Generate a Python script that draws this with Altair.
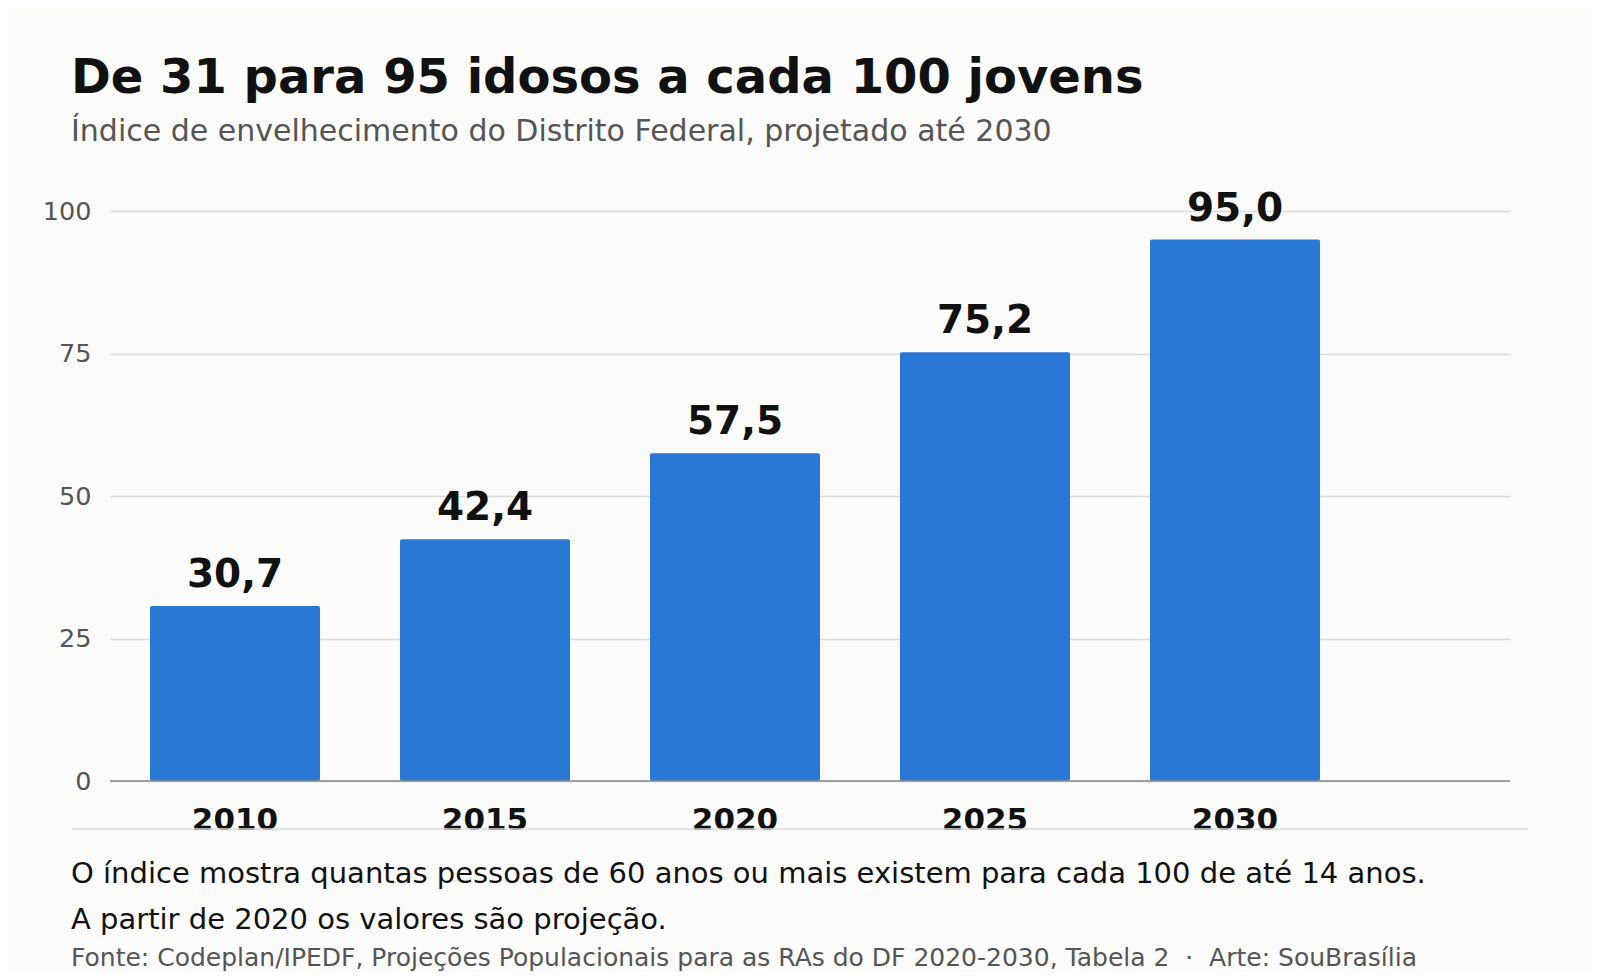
import altair as alt
import pandas as pd

years = [2010, 2015, 2020, 2025, 2030]
values = [30.7, 42.4, 57.5, 75.2, 95.0]

title_text = "De 31 para 95 idosos a cada 100 jovens"
subtitle_text = "Índice de envelhecimento do Distrito Federal, projetado até 2030"
note1 = "O índice mostra quantas pessoas de 60 anos ou mais existem para cada 100 de até 14 anos."
note2 = "A partir de 2020 os valores são projeção."
source = "Fonte: Codeplan/IPEDF, Projeções Populacionais para as RAs do DF 2020-2030, Tabela 2\u00a0\u00a0·\u00a0\u00a0Arte: SouBrasília"

df = pd.DataFrame({"year": years, "value": values})

FONT = "DejaVu Sans"
BLUE = "#2a78d6"
W, H = 1400, 570

xscale = alt.Scale(domain=[2007.5, 2035.5], nice=False, zero=False)
yscale = alt.Scale(domain=[0, 100], nice=False)

base = alt.Chart(df).transform_calculate(
    x0="datum.year - 1.7",
    x1="datum.year + 1.7",
    zero="0",
    label="replace(format(datum.value, '.1f'), '.', ',')",
    ylab="toString(datum.year)",
)

bars = base.mark_bar(color=BLUE, cornerRadius=2).encode(
    x=alt.X("x0:Q", scale=xscale, axis=None),
    x2="x1:Q",
    y=alt.Y(
        "value:Q",
        scale=yscale,
        axis=alt.Axis(
            values=[0, 25, 50, 75, 100],
            title=None,
            domain=False,
            ticks=False,
            grid=True,
            gridColor="#dcdcdc",
            gridWidth=1.5,
            labelFont=FONT,
            labelFontSize=25.5,
            labelColor="#555555",
            labelPadding=19,
            labelBaseline="middle",
        ),
    ),
    y2="zero:Q",
)

zero = alt.Chart(pd.DataFrame({"z": [0]})).mark_rule(color="#888888", strokeWidth=1.6).encode(
    y=alt.Y("z:Q", scale=yscale),
    x=alt.value(0),
    x2=alt.value(W),
)

labels = base.mark_text(
    font=FONT, fontSize=39, fontWeight="bold", color="#111111",
    baseline="alphabetic", dy=-19,
).encode(
    x=alt.X("year:Q", scale=xscale),
    y=alt.Y("value:Q", scale=yscale),
    text="label:N",
)

xlabels = base.mark_text(
    font=FONT, fontSize=31, fontWeight="bold", color="#111111",
    baseline="alphabetic",
).encode(
    x=alt.X("year:Q", scale=xscale),
    y=alt.value(619),
    text="ylab:N",
)

sep = alt.Chart(pd.DataFrame({"z": [0]})).mark_rule(color="#dddddd", strokeWidth=1.6).encode(
    x=alt.value(-38.5),
    x2=alt.value(1418.5),
    y=alt.value(618),
)


def txt(t, y, size, color, weight="normal"):
    return alt.Chart(pd.DataFrame({"t": [t]})).mark_text(
        font=FONT, fontSize=size, fontWeight=weight, color=color,
        align="left", baseline="alphabetic",
    ).encode(x=alt.value(-39), y=alt.value(y), text="t:N")


chart = alt.layer(
    bars,
    zero,
    labels,
    xlabels,
    sep,
    txt(title_text, -117.7, 48, "#111111", "bold"),
    txt(subtitle_text, -70.3, 30, "#555555"),
    txt(note1, 672.3, 29, "#111111"),
    txt(note2, 718.3, 29, "#111111"),
    txt(source, 755, 25, "#555555"),
).properties(
    width=W,
    height=H,
    background="#fbfbfa",
    padding={"left": 102, "top": 203, "right": 82, "bottom": 191},
    autosize=alt.AutoSizeParams(type="none"),
).configure_view(stroke=None)

chart.save("out.html", embed_options={"renderer": "svg", "actions": False})
